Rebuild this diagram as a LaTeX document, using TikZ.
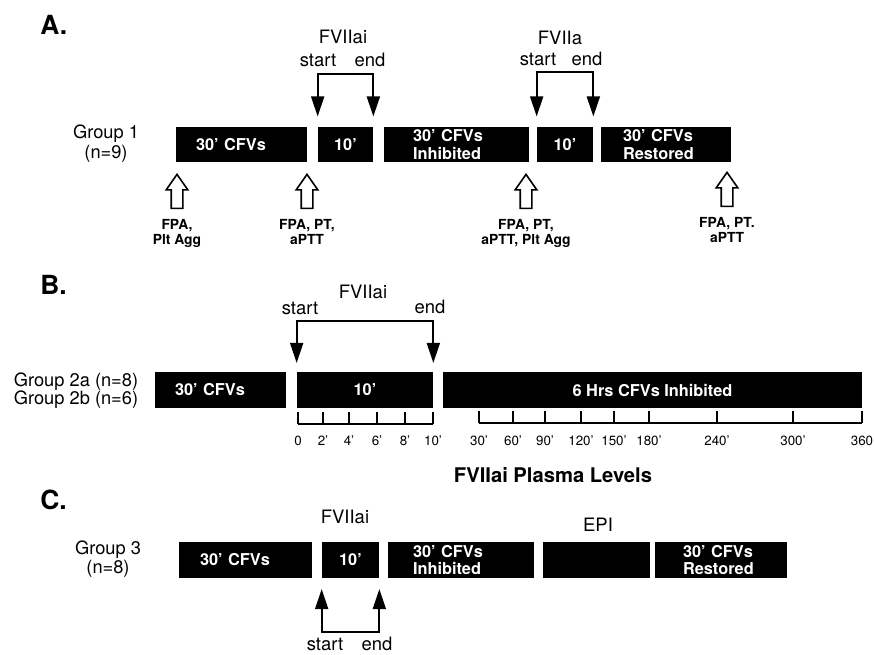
\documentclass[tikz,border=0pt]{standalone}
\usepackage{fontspec}
\setmainfont{TeX Gyre Heros}
\usetikzlibrary{arrows.meta,positioning,shapes.arrows}

\begin{document}
\begin{tikzpicture}[x=0.02cm,y=-0.02cm,
    stage/.style={fill=black,text=white,inner sep=0pt,minimum height=0.71cm,align=left,
        font=\bfseries\fontsize{9.3}{9.7}\selectfont},
    tag/.style={font=\fontsize{10.5}{11}\selectfont,inner sep=0pt},
    grp/.style={font=\fontsize{10.4}{10.4}\selectfont,align=center,inner sep=0pt},
    panel/.style={font=\bfseries\fontsize{15}{15}\selectfont,anchor=west,inner sep=0pt},
    infuse/.style={line width=1.1pt,>={Triangle[width=0.26cm,length=0.4cm]},<->},
    probe/.style={single arrow,draw,line width=0.9pt,fill=white,shape border rotate=90,
        minimum height=0.68cm,single arrow head extend=0.1cm,
        single arrow tip angle=70,inner sep=0.1cm,anchor=tip},
    probetext/.style={font=\bfseries\fontsize{7.9}{8.6}\selectfont,align=center,inner sep=0pt},
    axisline/.style={line width=1pt},
    ticktext/.style={font=\fontsize{7.6}{8}\selectfont,inner sep=0pt}]
    \useasboundingbox (0,0) rectangle (874,654);

    % A. group 1
    \node[panel] (la) at (40,25) {A.};
    \node[grp] (g1) at (106,144) {Group 1\\[1pt](n=9)};
    \node[stage,minimum width=2.62cm,text width=1.82cm] (a1) at (241.5,144.5) {30' CFVs};
    \node[stage,minimum width=1.10cm] (a2) at (345.5,144.5) {10'};
    \node[stage,minimum width=2.90cm,text width=1.74cm] (a3) at (456.5,144.5) {30' CFVs\\Inhibited};
    \node[stage,minimum width=1.12cm] (a4) at (565,144.5) {10'};
    \node[stage,minimum width=2.60cm,text width=1.72cm] (a5) at (666,144.5) {30' CFVs\\Restored};

    \coordinate (as1) at ([yshift=0.2cm]a2.north west);
    \coordinate (ae1) at ([yshift=0.2cm]a2.north east);
    \draw[infuse] (as1) -- ++(0,-42) -| (ae1);
    \node[tag] (fa1) at (343,37) {FVIIai};
    \node[tag] (sa1) at (318,60) {start};
    \node[tag] (ea1) at (370,60) {end};

    \coordinate (as2) at ([yshift=0.2cm]a4.north west);
    \coordinate (ae2) at ([yshift=0.2cm]a4.north east);
    \draw[infuse] (as2) -- ++(0,-44) -| (ae2);
    \node[tag] (fa2) at (560,38) {FVIIa};
    \node[tag] (sa2) at (538,59) {start};
    \node[tag] (ea2) at (587,59) {end};

    \node[probe] (p1) at (177,173) {};
    \node[probe] (p2) at (307,173) {};
    \node[probe] (p3) at (526,173) {};
    \node[probe] (p4) at (727,171) {};
    \node[probetext,below=0.2cm of p1.tail] (t1) {FPA,\\Plt Agg};
    \node[probetext,below=0.2cm of p2.tail] (t2) {FPA, PT,\\aPTT};
    \node[probetext,below=0.2cm of p3.tail] (t3) {FPA, PT,\\aPTT, Plt Agg};
    \node[probetext,below=0.2cm of p4.tail] (t4) {FPA, PT.\\aPTT};

    % B. groups 2a and 2b
    \node[panel] (lb) at (40,285) {B.};
    \node[grp,align=left] (g2) at (76,391) {Group 2a (n=8)\\Group 2b (n=6)};
    \node[stage,minimum width=2.62cm,text width=1.82cm] (b1) at (220.5,390) {30' CFVs};
    \node[stage,minimum width=2.72cm] (b2) at (365,390) {10'};
    \node[stage,minimum width=8.38cm] (b3) at (652.5,390) {6 Hrs CFVs Inhibited};

    \coordinate (bs) at ([yshift=0.18cm]b2.north west);
    \coordinate (be) at ([yshift=0.18cm]b2.north east);
    \draw[infuse] (bs) -- ++(0,-42) -| (be);
    \node[tag] (fb) at (363,292) {FVIIai};
    \node[tag] (sb) at (300,308) {start};
    \node[tag] (eb) at (430,307) {end};

    \draw[axisline] (298,424) -- (433,424);
    \foreach \x/\t in {298/0,323/2',349/4',377/6',405/8',433/10'} {
        \draw[axisline] (\x,424) -- (\x,412);
        \node[ticktext] (m\x) at (\x,441) {\t};
    }
    \draw[axisline] (479,423) -- (862,423);
    \foreach \x/\t in {479/30',513/60',545/90',581/120',614/150',649/180',717/240',793/300',862/360} {
        \draw[axisline] (\x,423) -- (\x,411);
        \node[ticktext] (h\x) at (\x,441) {\t};
    }
    \node[font=\bfseries\fontsize{11.5}{12}\selectfont] (plevels) at (553,475) {FVIIai Plasma Levels};

    % C. group 3
    \node[panel] (lc) at (40,500) {C.};
    \node[grp] (g3) at (108,559) {Group 3\\(n=8)};
    \node[stage,minimum width=2.66cm,text width=1.82cm] (c1) at (245.5,560) {30' CFVs};
    \node[stage,minimum width=1.14cm] (c2) at (350.5,560) {10'};
    \node[stage,minimum width=2.92cm,text width=1.92cm] (c3) at (461,560) {30' CFVs\\Inhibited};
    \node[stage,minimum width=2.14cm] (c4) at (596.5,560) {};
    \node[stage,minimum width=2.64cm,text width=1.52cm] (c5) at (721,560) {30' CFVs\\Restored};

    \coordinate (cs) at ([yshift=-0.22cm]c2.south west);
    \coordinate (ce) at ([yshift=-0.22cm]c2.south east);
    \draw[infuse] (cs) -- ++(0,43) -| (ce);
    \node[tag] (fc) at (345,517) {FVIIai};
    \node[tag] (epi) at (598,525) {EPI};
    \node[tag] (sc) at (325,644) {start};
    \node[tag] (ec) at (377,644) {end};
\end{tikzpicture}
\end{document}
